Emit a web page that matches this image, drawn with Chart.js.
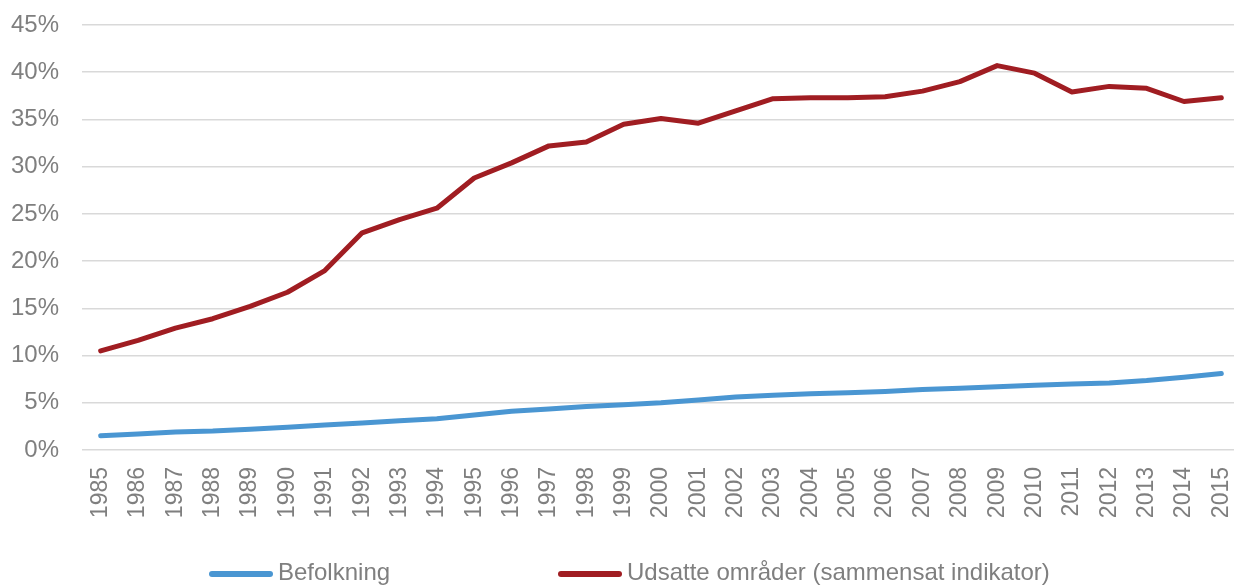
<!DOCTYPE html>
<html>
<head>
<meta charset="utf-8">
<script src="https://cdn.jsdelivr.net/npm/chart.js@4/dist/chart.umd.min.js"></script>
<style>
  html, body { margin: 0; padding: 0; background: #fff; overflow: hidden; }
  #wrap { width: 1234px; height: 585px; position: relative; overflow: hidden; }
  .lg-item { position: absolute; top: 558px; height: 28px; line-height: 28px; white-space: nowrap;
    font: 24px 'Liberation Sans', Arial, sans-serif; color: #7f7f7f; }
  .lg-line { display: inline-block; width: 64px; height: 6px; border-radius: 3px;
    vertical-align: middle; margin-right: 5px; }
</style>
</head>
<body>
<div id="wrap">
  <canvas id="chart"></canvas>
  <div id="legend"></div>
</div>
<script>
// years on the x axis
var years = ["1985","1986","1987","1988","1989","1990","1991","1992","1993","1994",
  "1995","1996","1997","1998","1999","2000","2001","2002","2003","2004","2005",
  "2006","2007","2008","2009","2010","2011","2012","2013","2014","2015"];

// share of population, percent
var befolkning = [1.5,1.7,1.9,2.0,2.2,2.4,2.65,2.85,3.1,3.3,3.7,4.1,4.35,4.6,4.8,
  5.0,5.3,5.6,5.8,5.95,6.05,6.2,6.4,6.55,6.7,6.85,7.0,7.1,7.35,7.7,8.1];

// udsatte omraader (sammensat indikator), percent
var udsatte = [10.5,11.6,12.9,13.9,15.2,16.7,19.0,23.0,24.4,25.6,28.8,30.4,32.2,32.6,34.5,
  35.1,34.6,35.9,37.2,37.3,37.3,37.4,38.0,39.0,40.7,39.9,37.9,38.5,38.3,36.9,37.3];

// legend x positions (left edge of each swatch)
var legendLeft = [209, 558];

var grey = "#7f7f7f";
Chart.defaults.font.family = "'Liberation Sans', Arial, sans-serif";
Chart.defaults.color = grey;

// canvas is a bit wider than the window: the plot runs past the right edge like the original
var ctx = document.getElementById("chart").getContext("2d");
ctx.canvas.width = 1240;
ctx.canvas.height = 585;

var chart = new Chart(ctx, {
  type: "line",
  data: {
    labels: years,
    datasets: [
      {
        label: "Befolkning",
        data: befolkning,
        borderColor: "#4a96d2",
        borderWidth: 5,
        borderCapStyle: "round",
        borderJoinStyle: "round",
        pointRadius: 0,
        tension: 0,
        fill: false
      },
      {
        label: "Udsatte områder (sammensat indikator)",
        data: udsatte,
        borderColor: "#a01d22",
        borderWidth: 5,
        borderCapStyle: "round",
        borderJoinStyle: "round",
        pointRadius: 0,
        tension: 0,
        fill: false
      }
    ]
  },
  options: {
    responsive: false,
    animation: false,
    layout: { padding: { top: 25, left: 9, right: 0, bottom: 65 } },
    plugins: {
      tooltip: { enabled: false },
      legend: { display: false }
    },
    scales: {
      x: {
        offset: true,
        grid: { display: false },
        border: { display: false },
        afterFit: function(scale) {
          scale.paddingLeft = 0;
          scale.paddingRight = 0;
          scale.height = 70;
        },
        ticks: {
          minRotation: 90,
          maxRotation: 90,
          autoSkip: false,
          padding: 9,
          color: grey,
          font: { size: 23 }
        }
      },
      y: {
        min: 0,
        max: 45,
        grid: { color: "#d9d9d9", lineWidth: 1.5, drawTicks: false },
        border: { display: false },
        afterFit: function(scale) {
          scale.width = 73;
          scale.paddingTop = 0;
          scale.paddingBottom = 0;
        },
        ticks: {
          stepSize: 5,
          padding: 23,
          color: grey,
          font: { size: 24 },
          callback: function(v) { return v + "%"; }
        }
      }
    }
  }
});

// legend under the chart, built from the datasets
var lg = document.getElementById("legend");
chart.data.datasets.forEach(function(ds, i) {
  var item = document.createElement("div");
  item.className = "lg-item";
  item.style.left = legendLeft[i] + "px";
  var sw = document.createElement("span");
  sw.className = "lg-line";
  sw.style.background = ds.borderColor;
  item.appendChild(sw);
  item.appendChild(document.createTextNode(ds.label));
  lg.appendChild(item);
});
</script>
</body>
</html>
